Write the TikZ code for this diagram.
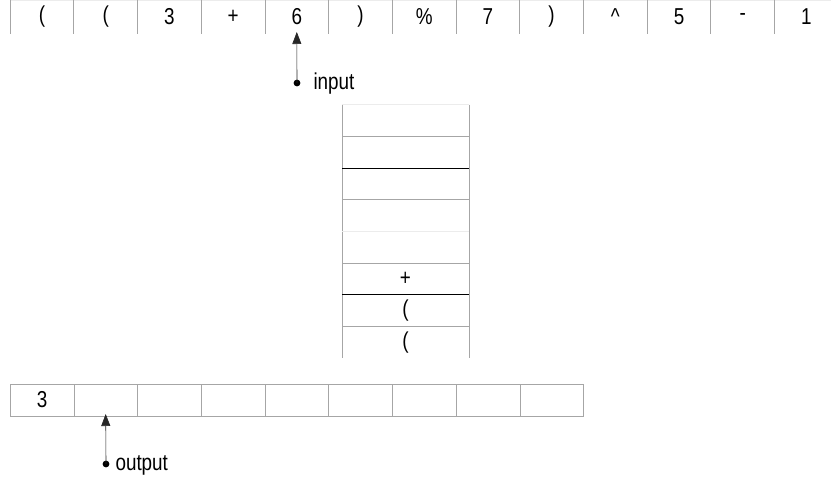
\documentclass[tikz,border=0pt]{standalone}
\usepackage{fontspec}
\setmainfont{Liberation Sans}[FakeStretch=0.82]
\usetikzlibrary{positioning,arrows.meta}

\begin{document}
\begin{tikzpicture}[
        x=1pt, y=-1pt,
        every node/.style={font=\fontsize{23}{26}\selectfont},
        cell/.style={minimum width=63.7pt, minimum height=34pt, inner sep=0pt, outer sep=0pt},
        slot/.style={minimum width=127pt, minimum height=31.7pt, inner sep=0pt, outer sep=0pt},
        outcell/.style={cell, minimum height=32pt, draw=gray!70},
        rule/.style={draw=gray!70, line width=0.8pt},
        faint/.style={draw=gray!15, line width=0.6pt},
        dark/.style={draw=black, line width=0.8pt},
        pointer/.style={draw=black!85, line width=0.6pt, -{Triangle[width=9pt,length=12pt]}},
    ]
    \clip (0,0) rectangle (831,478);

    % input tape
    \node[cell](in1) at (42,17){(};
    \foreach \t [count=\i from 2, remember=\i as \j (initially 1)] in {{(},3,+,6,{)},\%,7,{)},\textasciicircum,5,-,1}
        \node[cell, right=0pt of in\j](in\i){\t};
    \draw[faint] (in1.north west) -- (in13.north east);
    \foreach \i in {1,...,13}
        \draw[rule] (in\i.north west) -- (in\i.south west);

    % stack
    \node[slot](s1) at (405.5,120.5){};
    \foreach \t [count=\i from 2, remember=\i as \j (initially 1)] in {{},{},{},{},+,{(},{(}}
        \node[slot, below=0pt of s\j](s\i){\t};
    \draw[rule] (s1.north west) -- (s8.south west);
    \draw[rule] (s1.north east) -- (s8.south east);
    \draw[faint] (s1.north west) -- (s1.north east);
    \draw[rule] (s2.north west) -- (s2.north east);
    \draw[dark] (s3.north west) -- (s3.north east);
    \draw[rule] (s4.north west) -- (s4.north east);
    \draw[faint] (s5.north west) -- (s5.north east);
    \draw[rule] (s6.north west) -- (s6.north east);
    \draw[dark] (s7.north west) -- (s7.north east);
    \draw[rule] (s8.north west) -- (s8.north east);

    % output tape
    \node[outcell](o1) at (42,400){3};
    \foreach \i [remember=\i as \j (initially 1)] in {2,...,9}
        \node[outcell, right=0pt of o\j](o\i){};

    % pointers
    \coordinate (ip) at (297,83);
    \fill (ip) circle (3.4);
    \draw[pointer] (ip) -- ([yshift=2pt]in5.south);
    \node[anchor=west] (iplabel) at (310,84){input};

    \coordinate (op) at (106,464);
    \fill (op) circle (3.4);
    \draw[pointer] (op) -- ([yshift=2pt]o2.south);
    \node[anchor=west] (oplabel) at (112,465){output};

\end{tikzpicture}
\end{document}
